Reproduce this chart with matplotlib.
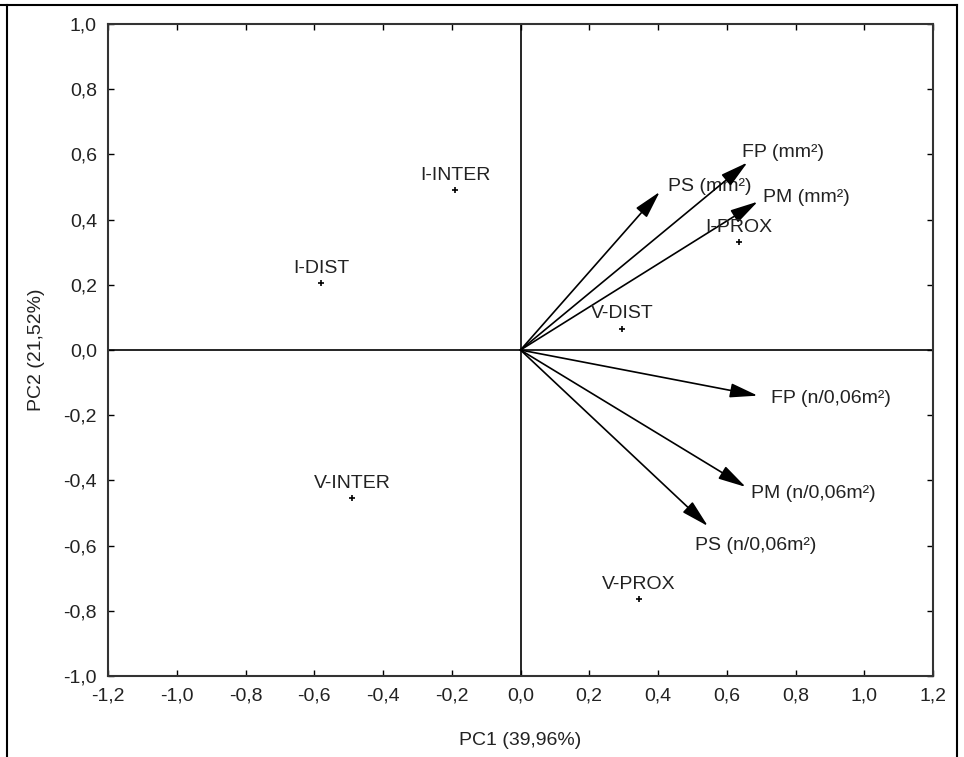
import matplotlib.pyplot as plt
from matplotlib.lines import Line2D
from matplotlib.ticker import FuncFormatter, MultipleLocator

plt.rcParams["font.family"] = ["Liberation Sans", "DejaVu Sans"]

# sample scores (PC1, PC2)
sites = ["I-INTER", "I-DIST", "V-INTER", "V-PROX", "V-DIST", "I-PROX"]
site_pc1 = [-0.19, -0.58, -0.49, 0.345, 0.295, 0.635]
site_pc2 = [0.49, 0.205, -0.455, -0.765, 0.065, 0.33]

# variable loadings (arrows)
variables = ["PS (mm²)", "FP (mm²)", "PM (mm²)",
             "FP (n/0,06m²)", "PM (n/0,06m²)", "PS (n/0,06m²)"]
var_pc1 = [0.405, 0.66, 0.69, 0.69, 0.655, 0.545]
var_pc2 = [0.485, 0.575, 0.455, -0.14, -0.42, -0.54]

# label offsets from arrow tips, pixels
var_offsets = [(8, 5), (-5, 10), (5, 4), (13, -3), (5, -7), (-13, -19)]

text_col = "#222222"


def comma_fmt(v, pos):
    return f"{v:.1f}".replace(".", ",")


fig = plt.figure(figsize=(9.64, 7.57), dpi=100)
ax = fig.add_axes([108 / 964, 1 - 676 / 757, 825 / 964, 652 / 757])

ax.set_xlim(-1.2, 1.2)
ax.set_ylim(-1.0, 1.0)
ax.axhline(0, color="black", lw=1.2, zorder=1)
ax.axvline(0, color="black", lw=1.2, zorder=1)

for name, x, y, (dx, dy) in zip(variables, var_pc1, var_pc2, var_offsets):
    ax.annotate("", xy=(x, y), xytext=(0, 0),
                arrowprops=dict(arrowstyle="-|>,head_length=0.85,head_width=0.22",
                                color="black", lw=1.2, mutation_scale=20,
                                shrinkA=0, shrinkB=0))
    ax.annotate(name, xy=(x, y), xytext=(dx, dy), textcoords="offset pixels",
                ha="left", va="center", fontsize=14, color=text_col)

ax.plot(site_pc1, site_pc2, "+", color="black", ms=4, mew=1.2)
for name, x, y in zip(sites, site_pc1, site_pc2):
    ax.annotate(name, xy=(x, y), xytext=(0, 15), textcoords="offset pixels",
                ha="center", va="center", fontsize=14, color=text_col)

ax.xaxis.set_major_locator(MultipleLocator(0.2))
ax.yaxis.set_major_locator(MultipleLocator(0.2))
ax.xaxis.set_major_formatter(FuncFormatter(comma_fmt))
ax.yaxis.set_major_formatter(FuncFormatter(comma_fmt))
ax.tick_params(direction="in", length=4, width=1, top=True, right=True,
               labelsize=14, labelcolor=text_col, pad=8)
for s in ax.spines.values():
    s.set_linewidth(1.5)
    s.set_color("#333333")

ax.set_xlabel("PC1 (39,96%)", fontsize=14, color=text_col, labelpad=20)
ax.set_ylabel("PC2 (21,52%)", fontsize=14, color=text_col, labelpad=13)

# outer frame fragments
fig.add_artist(Line2D([7 / 964, 7 / 964], [0, 1 - 5 / 757], color="black", lw=1.5))
fig.add_artist(Line2D([957 / 964, 957 / 964], [0, 1 - 5 / 757], color="black", lw=1.5))
fig.add_artist(Line2D([0, 957 / 964], [1 - 5 / 757, 1 - 5 / 757], color="black", lw=1.5))

fig.savefig("out.png", dpi=100)
